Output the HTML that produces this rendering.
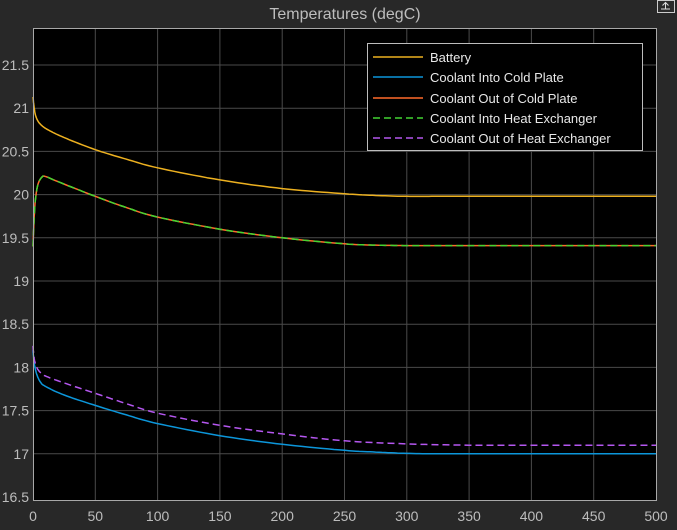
<!DOCTYPE html>
<html><head><meta charset="utf-8"><style>
body{margin:0;background:#282828;}
svg{display:block;font-family:"Liberation Sans",sans-serif;}
</style></head><body>
<svg id="s" width="677" height="530" viewBox="0 0 677 530">
<rect width="677" height="530" fill="#282828"/>
<rect x="33" y="28" width="623" height="473" fill="#000"/>
<g id="grid" stroke="#4a4a4a" stroke-width="1"></g>
<g id="ticks" fill="#bdbdbd" font-size="14"></g>
<g id="lines" fill="none" stroke-width="1.5"></g>
<rect x="33.5" y="28.5" width="623" height="472" fill="none" stroke="#a8a8a8" stroke-width="1"/>
<text x="345" y="19" text-anchor="middle" fill="#bdbdbd" font-size="16">Temperatures (degC)</text>
<rect x="657.5" y="0.5" width="17" height="12" fill="#2b2b2b" stroke="#ccc" stroke-width="1"/>
<path d="M661 9h9M665.5 9V3M662.5 5.5l3-3 3 3" stroke="#ddd" fill="none"/>
<g>
<rect x="367.5" y="43.5" width="275" height="107" fill="#000" stroke="#bdbdbd"/>
<g font-size="13" fill="#e8e8e8">
<line x1="373" y1="57" x2="423" y2="57" stroke="#edb120" stroke-width="1.5"/><text x="430" y="62">Battery</text>
<line x1="373" y1="77" x2="423" y2="77" stroke="#0c96da" stroke-width="1.5"/><text x="430" y="82">Coolant Into Cold Plate</text>
<line x1="373" y1="98" x2="423" y2="98" stroke="#ff6a2b" stroke-width="1.5"/><text x="430" y="103">Coolant Out of Cold Plate</text>
<line x1="373" y1="118" x2="423" y2="118" stroke="#43d432" stroke-width="1.5" stroke-dasharray="7,4"/><text x="430" y="123">Coolant Into Heat Exchanger</text>
<line x1="373" y1="138" x2="423" y2="138" stroke="#b557f0" stroke-width="1.5" stroke-dasharray="7,4"/><text x="430" y="143">Coolant Out of Heat Exchanger</text>
</g></g>
</svg>
<script>
var NS="http://www.w3.org/2000/svg";
function X(t){return 33+t*1.246;}
function Y(v){return 65+(21.5-v)*86.4;}
function el(p,n,a,txt){var e=document.createElementNS(NS,n);for(var k in a)e.setAttribute(k,a[k]);if(txt)e.textContent=txt;document.getElementById(p).appendChild(e);}
for(var t=50;t<500;t+=50){el("grid","line",{x1:X(t),x2:X(t),y1:28,y2:501});}
for(var v=17;v<=21.5;v+=0.5){el("grid","line",{x1:33,x2:656,y1:Y(v),y2:Y(v)});}
for(var t=0;t<=500;t+=50){el("ticks","text",{x:X(t),y:521,"text-anchor":"middle"},String(t));}
for(var v=16.5;v<=21.5;v+=0.5){el("ticks","text",{x:29,y:Y(v)+5,"text-anchor":"end"},String(v));}
var S=[
["#edb120","",[[0,21.13],[1,21.0],[2,20.92],[4,20.85],[7,20.8],[12,20.75],[25,20.66],[50,20.52],[75,20.41],[100,20.31],[150,20.17],[200,20.07],[250,20.01],[275,19.99],[300,19.98],[325,19.98],[350,19.98],[400,19.98],[450,19.98],[500,19.98]]],
["#0c96da","",[[0,18.2],[1,18.05],[3,17.92],[6,17.83],[10,17.78],[25,17.68],[50,17.56],[75,17.45],[100,17.35],[150,17.21],[200,17.11],[250,17.04],[275,17.02],[300,17.005],[325,17.0],[350,17.0],[400,17.0],[450,17.0],[500,17.0]]],
["#ff6a2b","",[[0,19.4],[1,19.75],[2,19.95],[4,20.12],[7,20.2],[10,20.21],[20,20.15],[50,19.98],[75,19.85],[100,19.74],[150,19.6],[200,19.5],[250,19.43],[275,19.415],[300,19.41],[325,19.41],[350,19.41],[400,19.41],[450,19.41],[500,19.41]]],
["#43d432","7,4",null],
["#b557f0","7,4",[[0,18.25],[1,18.1],[3,18.0],[6,17.94],[10,17.9],[25,17.82],[50,17.7],[75,17.58],[100,17.47],[150,17.33],[200,17.23],[250,17.15],[300,17.115],[350,17.1],[400,17.1],[450,17.1],[500,17.1]]]
];
S[3][2]=S[2][2];
function smooth(P){var out=[];for(var i=0;i<P.length-1;i++){var p0=P[i-1]||P[i],p1=P[i],p2=P[i+1],p3=P[i+2]||P[i+1];
for(var k=0;k<10;k++){var u=k/10,u2=u*u,u3=u2*u;
var f=function(a,b,c,d){return 0.5*((2*b)+(-a+c)*u+(2*a-5*b+4*c-d)*u2+(-a+3*b-3*c+d)*u3);};
out.push([f(p0[0],p1[0],p2[0],p3[0]),f(p0[1],p1[1],p2[1],p3[1])]);}}out.push(P[P.length-1]);return out;}
S.forEach(function(s){var p=smooth(s[2]).map(function(q){return X(q[0]).toFixed(1)+","+Y(q[1]).toFixed(1);}).join(" ");
var a={points:p,stroke:s[0],"stroke-linejoin":"round"};if(s[1])a["stroke-dasharray"]=s[1];el("lines","polyline",a);});
</script>
</body></html>
